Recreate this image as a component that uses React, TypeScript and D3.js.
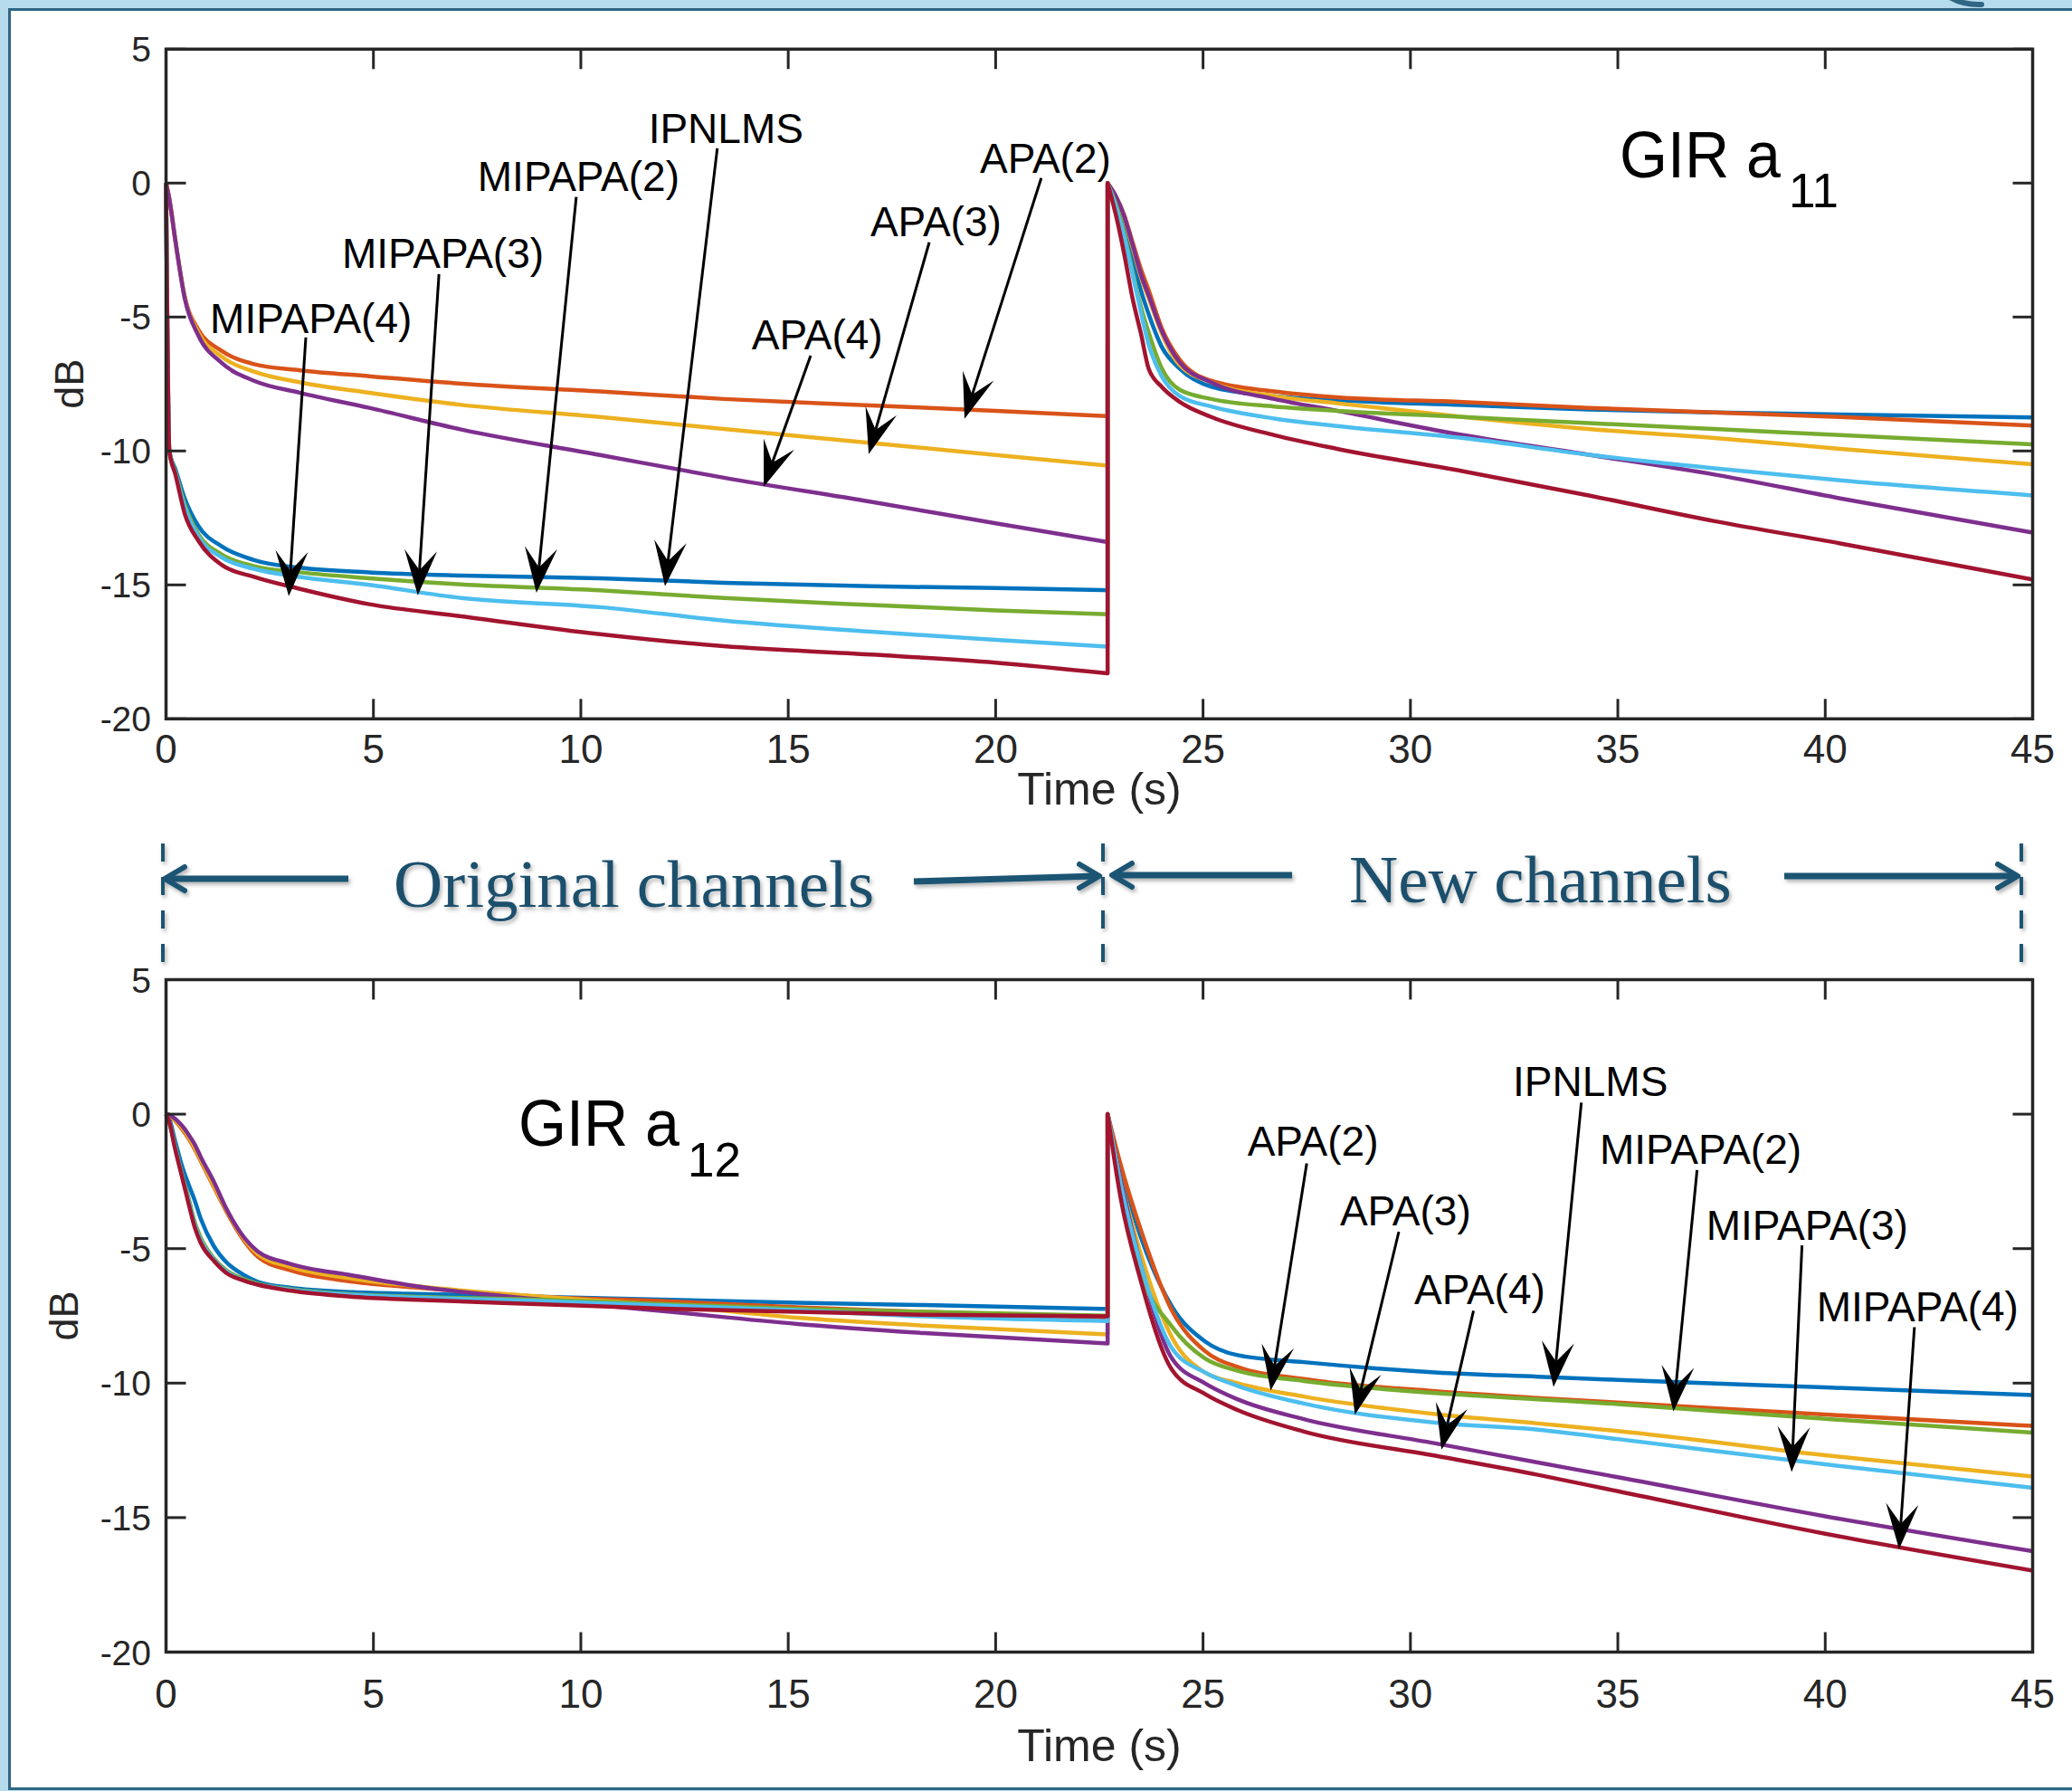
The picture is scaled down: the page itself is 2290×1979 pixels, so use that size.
import React from "react";
import * as d3 from "d3";

// ---------------- data ----------------
const SERIES = ["IPNLMS", "APA(2)", "APA(3)", "APA(4)", "MIPAPA(2)", "MIPAPA(3)", "MIPAPA(4)"];
const COLORS = ["#0072BD", "#D95319", "#EDB120", "#7E2F8E", "#77AC30", "#4DBEEE", "#A2142F"];
const X_TICKS = [0, 5, 10, 15, 20, 25, 30, 35, 40, 45];
const Y_TICKS = [5, 0, -5, -10, -15, -20];

// GIR a11 — original channels (time grid, s)
const A11_T_ORIG = [0, 0.08, 0.23, 0.45, 0.78, 1.34, 2.12, 3.23, 4.9, 7.12, 10.46, 13.45, 17, 20, 22.7];
const A11_IPNLMS_ORIG = [0, -10.0, -10.7, -11.77, -12.8, -13.56, -14.07, -14.36, -14.53, -14.65, -14.75, -14.92, -15.05, -15.12, -15.2];
const A11_APA2_ORIG = [0, -0.6, -2.2, -4.23, -5.47, -6.26, -6.76, -6.99, -7.21, -7.49, -7.78, -8.06, -8.3, -8.5, -8.7];
const A11_APA3_ORIG = [0, -0.6, -2.2, -4.25, -5.58, -6.48, -7.04, -7.44, -7.83, -8.28, -8.73, -9.18, -9.7, -10.15, -10.55];
const A11_APA4_ORIG = [0, -0.6, -2.2, -4.3, -5.69, -6.71, -7.38, -7.83, -8.39, -9.2, -10.15, -11.0, -11.9, -12.7, -13.4];
const A11_MIPAPA2_ORIG = [0, -10.0, -10.8, -12.0, -13.1, -13.86, -14.3, -14.53, -14.75, -14.98, -15.2, -15.49, -15.75, -15.95, -16.1];
const A11_MIPAPA3_ORIG = [0, -10.0, -10.85, -12.1, -13.2, -13.97, -14.4, -14.7, -15.0, -15.49, -15.83, -16.33, -16.75, -17.05, -17.3];
const A11_MIPAPA4_ORIG = [0, -10.0, -10.9, -12.34, -13.35, -14.25, -14.7, -15.15, -15.72, -16.17, -16.84, -17.29, -17.6, -17.9, -18.3];

// GIR a11 — new channels
const A11_T_NEW = [22.7, 22.9, 23.1, 23.3, 23.5, 23.69, 24.0, 24.44, 25.2, 26.72, 28.23, 31.27, 34.3, 37.33, 40.36, 45];
const A11_IPNLMS_NEW = [0, -0.7, -1.6, -2.8, -4.0, -4.9, -6.1, -6.93, -7.6, -7.95, -8.11, -8.28, -8.45, -8.56, -8.64, -8.75];
const A11_APA2_NEW = [0, -0.5, -1.2, -2.2, -3.2, -4.0, -5.4, -6.6, -7.38, -7.78, -8.0, -8.17, -8.39, -8.56, -8.73, -9.05];
const A11_APA3_NEW = [0, -0.55, -1.3, -2.4, -3.5, -4.3, -5.6, -6.8, -7.44, -7.95, -8.22, -8.73, -9.18, -9.52, -9.92, -10.5];
const A11_APA4_NEW = [0, -0.5, -1.25, -2.3, -3.4, -4.2, -5.5, -6.7, -7.44, -8.06, -8.5, -9.41, -10.14, -10.88, -11.77, -13.05];
const A11_MIPAPA2_NEW = [0, -0.8, -1.9, -3.3, -4.6, -5.58, -6.9, -7.72, -8.06, -8.34, -8.5, -8.73, -8.96, -9.18, -9.41, -9.75];
const A11_MIPAPA3_NEW = [0, -0.9, -2.0, -3.4, -4.8, -6.03, -7.2, -7.95, -8.34, -8.79, -9.07, -9.52, -10.14, -10.65, -11.1, -11.66];
const A11_MIPAPA4_NEW = [0, -1.2, -2.65, -4.3, -5.6, -6.93, -7.6, -8.17, -8.73, -9.41, -9.92, -10.76, -11.66, -12.62, -13.45, -14.8];

// GIR a12 — original channels
const A12_T_ORIG = [0, 0.06, 0.22, 0.38, 0.54, 0.69, 0.84, 1.15, 1.45, 1.9, 2.21, 2.98, 4.51, 6.04, 9.1, 12.16, 15.22, 18.28, 22.7];
const A12_IPNLMS_ORIG = [0, -0.1, -1.0, -1.9, -2.6, -3.2, -3.9, -4.9, -5.5, -6.0, -6.23, -6.45, -6.62, -6.68, -6.79, -6.9, -7.01, -7.1, -7.24];
const A12_APA2_ORIG = [0, -0.02, -0.25, -0.55, -0.9, -1.3, -1.75, -2.7, -3.6, -4.75, -5.3, -5.8, -6.23, -6.45, -6.79, -6.96, -7.18, -7.35, -7.57];
const A12_APA3_ORIG = [0, -0.02, -0.23, -0.5, -0.85, -1.25, -1.7, -2.65, -3.55, -4.68, -5.2, -5.67, -6.12, -6.4, -6.79, -7.12, -7.57, -7.86, -8.19];
const A12_APA4_ORIG = [0, -0.02, -0.17, -0.42, -0.75, -1.12, -1.6, -2.5, -3.5, -4.62, -5.1, -5.56, -6.0, -6.4, -6.9, -7.35, -7.8, -8.14, -8.53];
const A12_MIPAPA2_ORIG = [0, -0.2, -1.2, -2.2, -3.1, -4.0, -4.6, -5.35, -5.8, -6.15, -6.3, -6.5, -6.7, -6.79, -6.9, -7.07, -7.24, -7.35, -7.49];
const A12_MIPAPA3_ORIG = [0, -0.2, -1.25, -2.25, -3.2, -4.1, -4.7, -5.4, -5.85, -6.2, -6.33, -6.52, -6.72, -6.82, -6.95, -7.12, -7.29, -7.52, -7.69];
const A12_MIPAPA4_ORIG = [0, -0.2, -1.3, -2.3, -3.3, -4.2, -4.8, -5.45, -5.9, -6.2, -6.34, -6.56, -6.79, -6.9, -7.07, -7.24, -7.35, -7.46, -7.52];

// GIR a12 — new channels
const A12_T_NEW = [22.7, 23.0, 23.5, 24.25, 25.04, 25.83, 27.43, 30.6, 33.07, 35, 40, 45];
const A12_IPNLMS_NEW = [0, -2.0, -4.57, -7.15, -8.44, -8.96, -9.22, -9.6, -9.76, -9.88, -10.16, -10.44];
const A12_APA2_NEW = [0, -1.8, -4.3, -7.3, -8.8, -9.4, -9.85, -10.3, -10.55, -10.72, -11.17, -11.59];
const A12_APA3_NEW = [0, -2.3, -5.2, -8.3, -9.6, -10.0, -10.5, -11.15, -11.5, -11.78, -12.68, -13.47];
const A12_APA4_NEW = [0, -2.3, -5.6, -9.08, -10.0, -10.6, -11.34, -12.24, -12.95, -13.5, -14.95, -16.25];
const A12_MIPAPA2_NEW = [0, -2.5, -5.86, -7.9, -9.08, -9.54, -9.92, -10.37, -10.6, -10.78, -11.33, -11.84];
const A12_MIPAPA3_NEW = [0, -2.5, -5.6, -8.7, -9.6, -10.1, -10.76, -11.47, -11.73, -12.08, -13.02, -13.89];
const A12_MIPAPA4_NEW = [0, -3.0, -6.2, -9.5, -10.4, -11.0, -11.8, -12.7, -13.41, -14.02, -15.6, -16.97];

// annotations: label, text anchor (t, dB), arrow start (t, dB), arrow tip (t, dB)
const A11_NOTES = [
  ["MIPAPA(4)", 1.06, -5.59, 3.37, -5.76, 2.96, -15.42],
  ["MIPAPA(3)", 4.24, -3.16, 6.58, -3.40, 6.07, -15.39],
  ["MIPAPA(2)", 7.51, -0.29, 9.89, -0.52, 8.93, -15.29],
  ["IPNLMS", 11.63, 1.5, 13.29, 1.3, 12.03, -15.05],
  ["APA(4)", 14.12, -6.2, 15.54, -6.44, 14.41, -11.33],
  ["APA(3)", 16.98, -1.98, 18.4, -2.21, 16.94, -10.12],
  ["APA(2)", 19.62, 0.39, 21.1, 0.19, 19.25, -8.8],
];
const A12_NOTES = [
  ["APA(2)", 26.07, -1.56, 27.5, -1.83, 26.63, -10.28],
  ["APA(3)", 28.3, -4.15, 29.72, -4.37, 28.66, -11.18],
  ["APA(4)", 30.09, -7.05, 31.52, -7.31, 30.75, -12.47],
  ["IPNLMS", 32.47, 0.69, 34.12, 0.43, 33.45, -10.14],
  ["MIPAPA(2)", 34.56, -1.86, 36.91, -2.08, 36.34, -11.05],
  ["MIPAPA(3)", 37.13, -4.66, 39.44, -4.88, 39.19, -13.3],
  ["MIPAPA(4)", 39.79, -7.69, 42.15, -7.92, 41.78, -16.17],
];

const A11_ORIG = [A11_IPNLMS_ORIG, A11_APA2_ORIG, A11_APA3_ORIG, A11_APA4_ORIG, A11_MIPAPA2_ORIG, A11_MIPAPA3_ORIG, A11_MIPAPA4_ORIG];
const A11_NEW = [A11_IPNLMS_NEW, A11_APA2_NEW, A11_APA3_NEW, A11_APA4_NEW, A11_MIPAPA2_NEW, A11_MIPAPA3_NEW, A11_MIPAPA4_NEW];
const A12_ORIG = [A12_IPNLMS_ORIG, A12_APA2_ORIG, A12_APA3_ORIG, A12_APA4_ORIG, A12_MIPAPA2_ORIG, A12_MIPAPA3_ORIG, A12_MIPAPA4_ORIG];
const A12_NEW = [A12_IPNLMS_NEW, A12_APA2_NEW, A12_APA3_NEW, A12_APA4_NEW, A12_MIPAPA2_NEW, A12_MIPAPA3_NEW, A12_MIPAPA4_NEW];

// ---------------- layout ----------------
const W = 2290;
const H = 1979;
const SANS = "'Liberation Sans', Arial, Helvetica, sans-serif";
const SERIF = "'Liberation Serif', 'Times New Roman', serif";
const AXIS_COLOR = "#262626";
const TEAL = "#1d5473";

function Arrow({ x1, y1, x2, y2 }) {
  const dx = x2 - x1;
  const dy = y2 - y1;
  const len = Math.hypot(dx, dy);
  const ux = dx / len;
  const uy = dy / len;
  const px = -uy;
  const py = ux;
  const L = 50;
  const Wd = 18;
  const N = 28;
  const bx = x2 - ux * L;
  const by = y2 - uy * L;
  const nx = x2 - ux * N;
  const ny = y2 - uy * N;
  const head = `M${x2},${y2} L${bx + px * Wd},${by + py * Wd} L${nx},${ny} L${bx - px * Wd},${by - py * Wd} Z`;
  return (
    <g>
      <line x1={x1} y1={y1} x2={nx} y2={ny} stroke="#000" strokeWidth={3} />
      <path d={head} fill="#000" />
    </g>
  );
}

function Panel({ yTop, yBottom, orig, tOrig, news, tNew, notes, title, sub, titlePos, subPos, xLabelY, tickLabelY, dbX }) {
  const x = d3.scaleLinear().domain([0, 45]).range([183.5, 2246.5]);
  const y = d3.scaleLinear().domain([-20, 5]).range([yBottom, yTop]);
  const line = d3
    .line()
    .x((d) => x(d[0]))
    .y((d) => y(d[1]))
    .curve(d3.curveMonotoneX);
  const paths = SERIES.map((_, i) => {
    const p1 = line(tOrig.map((t, k) => [t, orig[i][k]]));
    const p2 = line(tNew.map((t, k) => [t + 0.0001, news[i][k]]));
    return p1 + p2.replace(/^M/, "L");
  });
  const tick = 22;
  return (
    <g>
      {paths.map((d, i) => (
        <path key={i} d={d} fill="none" stroke={COLORS[i]} strokeWidth={4.5} strokeLinejoin="round" />
      ))}
      {/* box */}
      <rect x={x(0)} y={y(5)} width={x(45) - x(0)} height={y(-20) - y(5)} fill="none" stroke={AXIS_COLOR} strokeWidth={3.5} />
      {X_TICKS.map((t) => (
        <g key={"x" + t}>
          <line x1={x(t)} x2={x(t)} y1={y(-20)} y2={y(-20) - tick} stroke={AXIS_COLOR} strokeWidth={3} />
          <line x1={x(t)} x2={x(t)} y1={y(5)} y2={y(5) + tick} stroke={AXIS_COLOR} strokeWidth={3} />
          <text x={x(t)} y={tickLabelY} textAnchor="middle" fontFamily={SANS} fontSize={44} fill={AXIS_COLOR}>
            {t}
          </text>
        </g>
      ))}
      {Y_TICKS.map((v) => (
        <g key={"y" + v}>
          <line x1={x(0)} x2={x(0) + tick} y1={y(v)} y2={y(v)} stroke={AXIS_COLOR} strokeWidth={3} />
          <line x1={x(45)} x2={x(45) - tick} y1={y(v)} y2={y(v)} stroke={AXIS_COLOR} strokeWidth={3} />
          <text x={167} y={y(v) + 14} textAnchor="end" fontFamily={SANS} fontSize={39} fill={AXIS_COLOR}>
            {v}
          </text>
        </g>
      ))}
      <text x={x(22.5)} y={xLabelY} textAnchor="middle" fontFamily={SANS} fontSize={50} fill={AXIS_COLOR}>
        Time (s)
      </text>
      <text transform={`translate(${dbX},${(y(5) + y(-20)) / 2}) rotate(-90)`} textAnchor="middle" fontFamily={SANS} fontSize={45} fill={AXIS_COLOR}>
        dB
      </text>
      <text x={titlePos[0]} y={titlePos[1]} fontFamily={SANS} fontSize={72} fill="#000" textLength={178} lengthAdjust="spacingAndGlyphs">
        {title}
      </text>
      <text x={subPos[0]} y={subPos[1]} fontFamily={SANS} fontSize={53} fill="#000">
        {sub}
      </text>
      {notes.map((n, i) => (
        <g key={"n" + i}>
          <text x={x(n[1])} y={y(n[2])} fontFamily={SANS} fontSize={46} fill="#000">
            {n[0]}
          </text>
          <Arrow x1={x(n[3])} y1={y(n[4])} x2={x(n[5])} y2={y(n[6])} />
        </g>
      ))}
    </g>
  );
}

function Chevron({ x, y, dir }) {
  const s = dir;
  return (
    <path
      d={`M${x - s * 22},${y - 13} L${x},${y} L${x - s * 22},${y + 13}`}
      fill="none"
      stroke={TEAL}
      strokeWidth={6}
      strokeLinecap="round"
      strokeLinejoin="round"
    />
  );
}

export default function App() {
  return (
    <svg width={W} height={H} viewBox={`0 0 ${W} ${H}`} style={{ position: "absolute", left: 0, top: 0, display: "block" }}>
      <defs>
        <filter id="sh" x="-10%" y="-10%" width="120%" height="140%">
          <feDropShadow dx="2" dy="3" stdDeviation="2" floodColor="#000" floodOpacity="0.3" />
        </filter>
      </defs>
      <rect x={0} y={0} width={W} height={H} fill="#b6dbec" />
      <rect x={10.5} y={10.5} width={W + 20} height={H - 13} fill="#ffffff" stroke="#2f6684" strokeWidth={3} />
      <path d="M2150,-6 Q2168,6 2190,5" fill="none" stroke="#2f6684" strokeWidth={6} strokeLinecap="round" />

      <Panel
        yTop={54.3}
        yBottom={794.3}
        orig={A11_ORIG}
        tOrig={A11_T_ORIG}
        news={A11_NEW}
        tNew={A11_T_NEW}
        notes={A11_NOTES}
        title="GIR a"
        sub="11"
        titlePos={[1790, 196]}
        subPos={[1977, 229]}
        xLabelY={889}
        tickLabelY={843}
        dbX={92}
      />
      <Panel
        yTop={1082.5}
        yBottom={1825.5}
        orig={A12_ORIG}
        tOrig={A12_T_ORIG}
        news={A12_NEW}
        tNew={A12_T_NEW}
        notes={A12_NOTES}
        title="GIR a"
        sub="12"
        titlePos={[573, 1266]}
        subPos={[760, 1300]}
        xLabelY={1946}
        tickLabelY={1887}
        dbX={86}
      />

      {/* channel span annotations */}
      <g filter="url(#sh)">
        {[180, 1219, 2234].map((xx) => (
          <line key={xx} x1={xx} x2={xx} y1={932} y2={1064} stroke={TEAL} strokeWidth={4} strokeDasharray="20 17" />
        ))}
        <line x1={183} y1={971} x2={385} y2={971} stroke={TEAL} strokeWidth={7} />
        <Chevron x={182} y={971} dir={-1} />
        <line x1={1010} y1={974} x2={1213} y2={968} stroke={TEAL} strokeWidth={7} />
        <Chevron x={1215} y={968} dir={1} />
        <line x1={1231} y1={967} x2={1428} y2={967} stroke={TEAL} strokeWidth={7} />
        <Chevron x={1229} y={967} dir={-1} />
        <line x1={1972} y1={968} x2={2228} y2={968} stroke={TEAL} strokeWidth={7} />
        <Chevron x={2230} y={968} dir={1} />
        <text x={435} y={1002} fontFamily={SERIF} fontSize={75} fill="#1b4f6c">
          Original channels
        </text>
        <text x={1491} y={997} fontFamily={SERIF} fontSize={75} fill="#1b4f6c">
          New channels
        </text>
      </g>
    </svg>
  );
}
